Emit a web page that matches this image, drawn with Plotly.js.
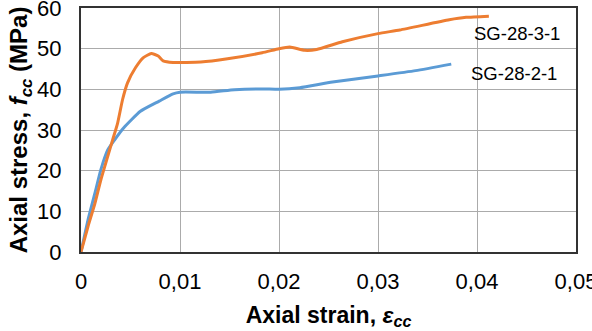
<!DOCTYPE html>
<html>
<head>
<meta charset="utf-8">
<script src="https://cdn.plot.ly/plotly-3.0.1.min.js"></script>
<style>html,body{margin:0;padding:0;background:#fff;}#chart{width:592px;height:331px;}</style>
</head>
<body>
<div id="chart"></div>
<script>
const seriesNames = ["SG-28-2-1", "SG-28-3-1"];
const strainBlue = [0, 0.0007, 0.0014, 0.002, 0.0027, 0.0034, 0.0043, 0.006, 0.0079, 0.0093, 0.01, 0.0131, 0.0155, 0.0183, 0.02, 0.0221, 0.0254, 0.03, 0.0338, 0.0374];
const stressBlue = [0, 7.8, 14.4, 20.2, 25.1, 27.6, 30.5, 34.6, 37.1, 38.9, 39.3, 39.3, 39.9, 40.1, 40.0, 40.4, 41.8, 43.3, 44.6, 46.2];
const strainOrange = [0, 0.0007, 0.0014, 0.002, 0.0027, 0.0032, 0.0037, 0.0042, 0.0047, 0.0055, 0.0063, 0.0071, 0.0078, 0.0083, 0.0093, 0.0121, 0.0148, 0.0183, 0.02, 0.0211, 0.0226, 0.0238, 0.0264, 0.03, 0.0322, 0.0372, 0.0389, 0.0412];
const stressOrange = [0, 6.2, 11.9, 17.7, 23.5, 27.6, 31.7, 37.5, 41.6, 45.3, 47.8, 48.8, 48.2, 47.0, 46.6, 46.7, 47.5, 49.0, 50.0, 50.4, 49.6, 49.8, 51.7, 53.7, 54.6, 57.1, 57.7, 58.0];
const xTickVals = [0, 0.01, 0.02, 0.03, 0.04, 0.05];
const yTickVals = [0, 10, 20, 30, 40, 50, 60];
const labelPos = [[0.0392, 44.0], [0.0395, 53.8]];

const FONT = "Liberation Sans, Arial, sans-serif";
const traces = [
  {x: strainBlue, y: stressBlue, mode: "lines", name: seriesNames[0],
   line: {color: "#5B9BD5", width: 3, shape: "spline", smoothing: 0.5}},
  {x: strainOrange, y: stressOrange, mode: "lines", name: seriesNames[1],
   line: {color: "#ED7D31", width: 3, shape: "spline", smoothing: 0.5}}
];
const layout = {
  width: 592, height: 331,
  margin: {l: 81, r: 16, t: 8, b: 79},
  paper_bgcolor: "#fff", plot_bgcolor: "#fff",
  showlegend: false,
  separators: ", ",
  font: {family: FONT, color: "#000"},
  xaxis: {
    range: [0, 0.05], tickvals: xTickVals, ticks: "",
    showgrid: true, gridcolor: "#ABABAB", gridwidth: 1,
    showline: true, linecolor: "#333", linewidth: 2, mirror: true,
    zeroline: false, ticklabeloverflow: "allow", ticklabelstandoff: 9,
    tickfont: {size: 22, family: FONT, color: "#000"},
    title: {text: "<b>Axial strain, <i>ε</i><sub><i>cc</i></sub></b>", font: {size: 23, family: FONT, color: "#000"}, standoff: 13}
  },
  yaxis: {
    range: [0, 60], tickvals: yTickVals, ticks: "",
    showgrid: true, gridcolor: "#ABABAB", gridwidth: 1,
    showline: true, linecolor: "#333", linewidth: 2, mirror: true,
    zeroline: false, ticklabeloverflow: "allow", ticklabelstandoff: 13,
    tickfont: {size: 22, family: FONT, color: "#000"},
    title: {text: "<b>Axial stress, <i>f</i><sub><i>cc</i></sub> (MPa)</b>", font: {size: 24, family: FONT, color: "#000"}, standoff: 3}
  },
  annotations: seriesNames.map((n, i) => ({
    x: labelPos[i][0], y: labelPos[i][1], xref: "x", yref: "y",
    text: n, showarrow: false, xanchor: "left", yanchor: "middle",
    font: {size: 18.5, family: FONT, color: "#000"}
  }))
};
Plotly.newPlot("chart", traces, layout, {staticPlot: true, displayModeBar: false});
</script>
</body>
</html>
